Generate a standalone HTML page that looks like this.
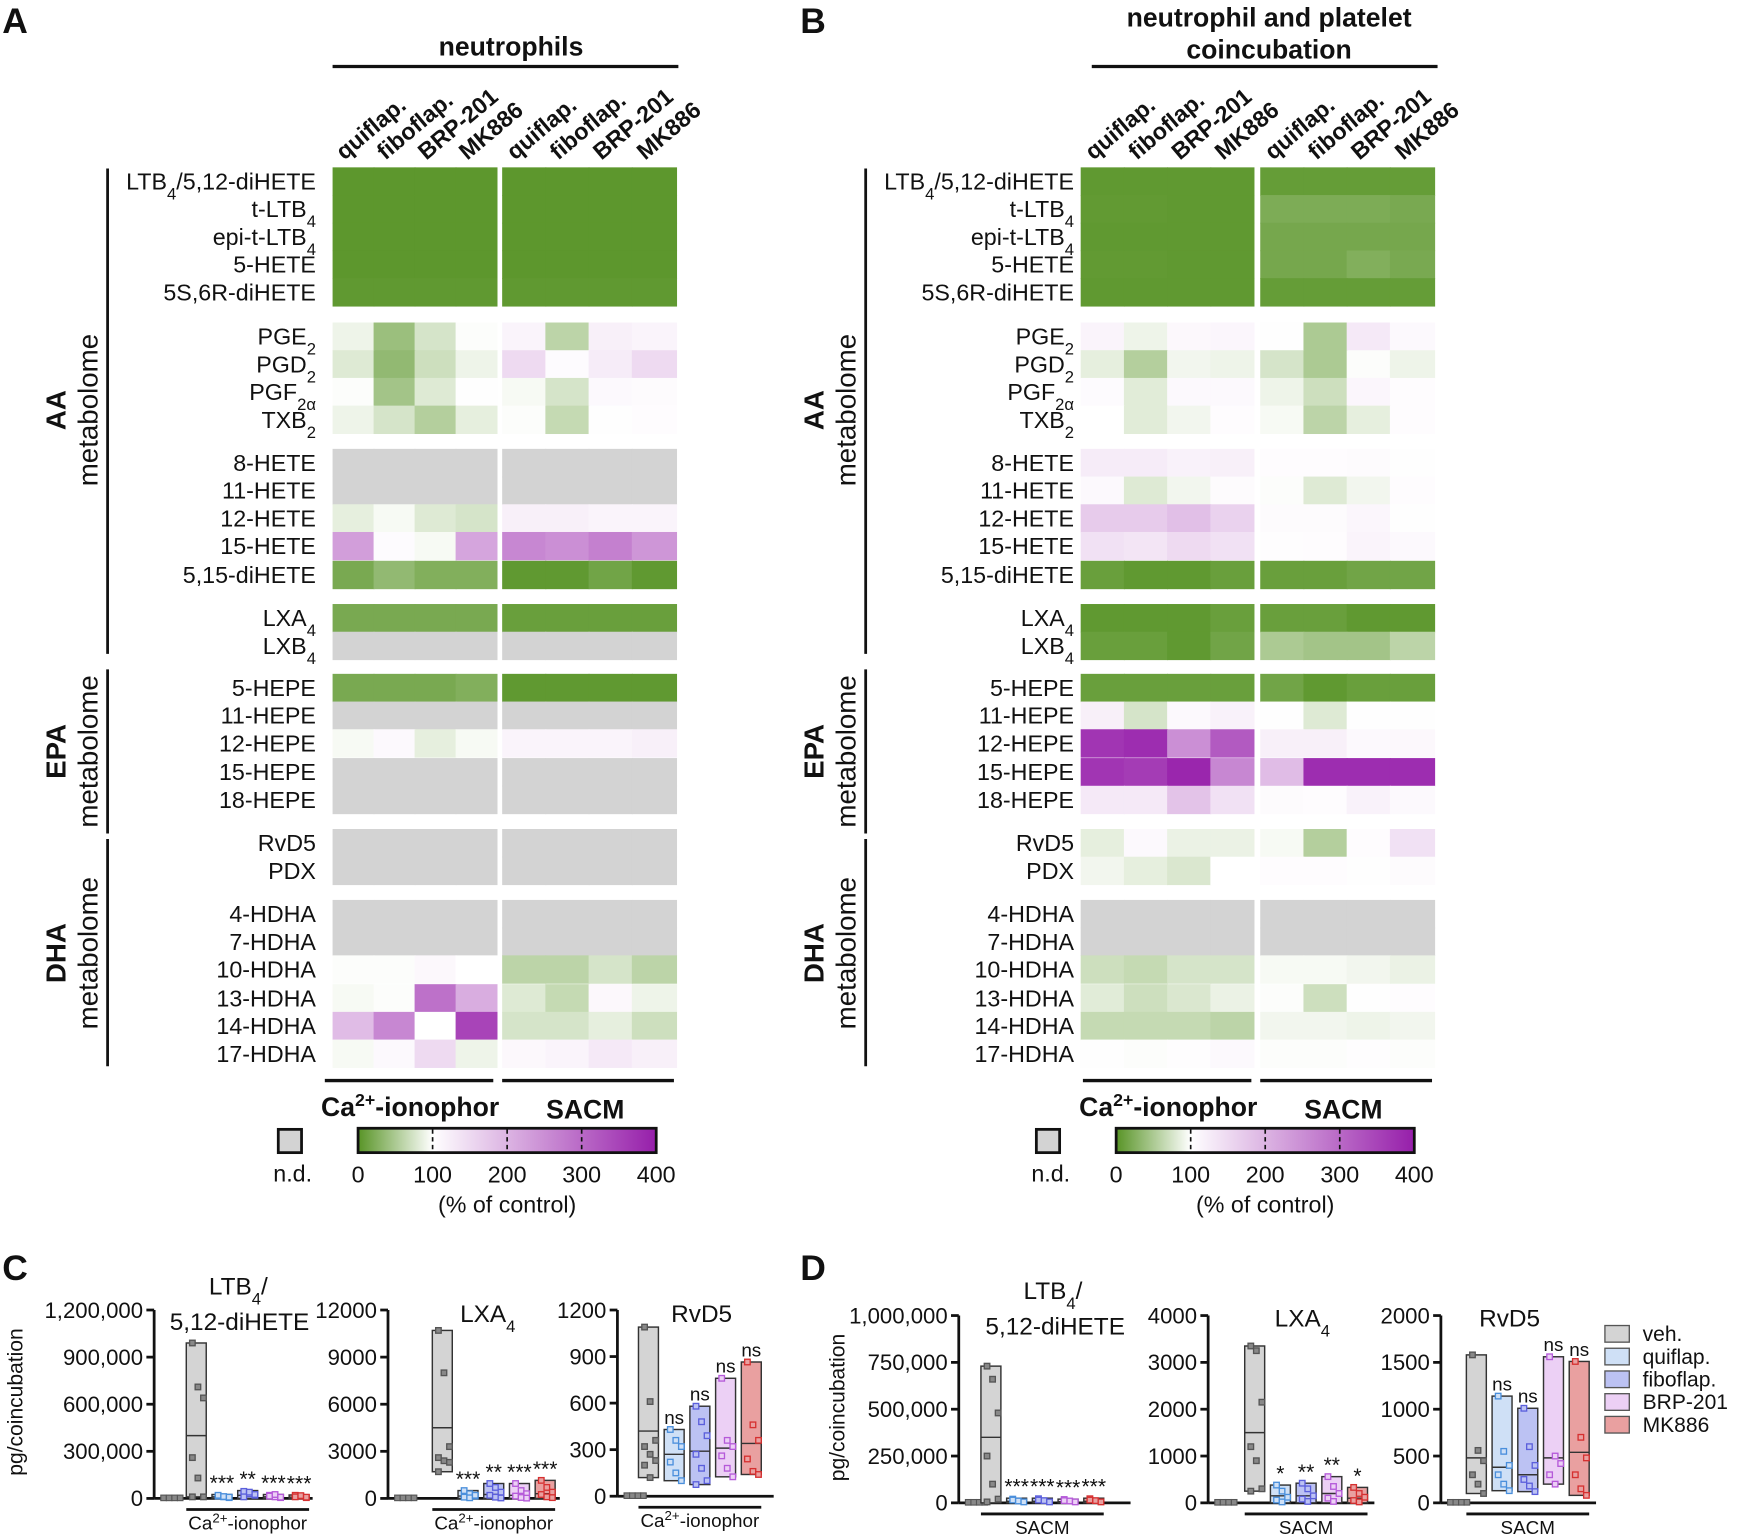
<!DOCTYPE html>
<html><head><meta charset="utf-8">
<style>
html,body{margin:0;padding:0;background:#fff;}
svg{display:block;font-family:"Liberation Sans",Arial,sans-serif;}
</style></head>
<body>
<svg id="fig" width="1738" height="1535" viewBox="0 0 1568 1385" xmlns="http://www.w3.org/2000/svg">
<defs>
<linearGradient id="cb" x1="0" x2="1" y1="0" y2="0">
<stop offset="0" stop-color="rgb(88,148,38)"/>
<stop offset="0.25" stop-color="#ffffff"/>
<stop offset="1" stop-color="rgb(150,30,170)"/>
</linearGradient>
</defs>
<g id="root"></g>
</svg>
<script>
// ---------- heatmap data ----------
const rowLabels = ["LTB<tspan baseline-shift='sub' font-size='15'>4</tspan>/5,12-diHETE","t-LTB<tspan baseline-shift='sub' font-size='15'>4</tspan>","epi-t-LTB<tspan baseline-shift='sub' font-size='15'>4</tspan>","5-HETE","5S,6R-diHETE",
"PGE<tspan baseline-shift='sub' font-size='15'>2</tspan>","PGD<tspan baseline-shift='sub' font-size='15'>2</tspan>","PGF<tspan baseline-shift='sub' font-size='15'>2α</tspan>","TXB<tspan baseline-shift='sub' font-size='15'>2</tspan>",
"8-HETE","11-HETE","12-HETE","15-HETE","5,15-diHETE",
"LXA<tspan baseline-shift='sub' font-size='15'>4</tspan>","LXB<tspan baseline-shift='sub' font-size='15'>4</tspan>",
"5-HEPE","11-HEPE","12-HEPE","15-HEPE","18-HEPE",
"RvD5","PDX",
"4-HDHA","7-HDHA","10-HDHA","13-HDHA","14-HDHA","17-HDHA"];
const rowGroup = [0,0,0,0,0,1,1,1,1,2,2,2,2,2,3,3,4,4,4,4,4,5,5,6,6,6,6,6,6];
const colLabels = ["quiflap.","fiboflap.","BRP-201","MK886","quiflap.","fiboflap.","BRP-201","MK886"];
const N = null;
const heatA = [
[3,3,3,3,3,3,3,3],[3,3,3,3,3,3,3,3],[3,3,3,3,3,3,3,3],[3,3,3,3,3,3,3,3],[5,5,5,5,5,5,5,5],
[90,40,75,98,115,60,120,115],[80,35,70,90,150,105,125,150],[98,45,80,102,95,75,108,106],[90,75,55,85,98,65,102,104],
[N,N,N,N,N,N,N,N],[N,N,N,N,N,N,N,N],[85,95,80,75,120,120,115,115],[230,105,95,220,260,250,270,240],[20,35,25,25,5,5,15,5],
[20,20,20,20,10,10,10,10],[N,N,N,N,N,N,N,N],
[20,20,20,25,5,5,5,5],[N,N,N,N,N,N,N,N],[95,108,85,95,115,115,115,120],[N,N,N,N,N,N,N,N],[N,N,N,N,N,N,N,N],
[N,N,N,N,N,N,N,N],[N,N,N,N,N,N,N,N],
[N,N,N,N,N,N,N,N],[N,N,N,N,N,N,N,N],[98,98,110,100,60,60,75,60],[95,98,290,210,80,65,110,90],[190,260,100,350,75,75,85,70],[95,108,150,90,110,115,130,120]];
const heatB = [
[5,5,5,5,8,8,8,8],[6,6,5,5,22,22,22,20],[5,5,5,5,18,18,18,18],[6,6,5,5,18,18,25,20],[5,5,5,5,8,8,8,8],
[115,90,110,112,102,50,130,108],[85,55,92,90,75,50,98,90],[105,82,108,108,90,70,112,104],[100,82,92,104,95,60,85,104],
[125,125,118,120,104,104,106,102],[108,80,92,106,98,80,92,104],[170,170,185,160,106,106,112,102],[140,135,150,140,103,104,115,108],[10,5,5,10,10,10,15,15],
[5,5,5,10,10,10,5,5],[10,10,5,15,50,45,45,60],
[10,10,10,10,15,5,10,10],[120,75,108,118,102,80,102,102],[370,380,250,320,120,120,108,110],[370,360,390,260,190,380,380,380],[130,130,180,140,106,104,118,108],
[85,108,88,88,95,55,104,140],[92,85,78,100,104,104,102,106],
[N,N,N,N,N,N,N,N],[N,N,N,N,N,N,N,N],[70,65,75,75,95,95,92,88],[82,70,78,88,98,70,102,104],[65,65,65,60,92,92,90,92],[102,98,103,108,98,98,103,98]];
const scaleTicks = [0,100,200,300,400];

// ---------- bar chart data ----------
const groups = ["veh.","quiflap.","fiboflap.","BRP-201","MK886"];
const c1Ticks=[0,300000,600000,900000,1200000], c1TickLbl=["0","300,000","600,000","900,000","1,200,000"];
const c1Min=[10000,0,0,0,0], c1Max=[990000,25000,50000,25000,22000], c1Med=[400000,10000,20000,10000,8000];
const c1Pts=[[990000,710000,640000,260000,130000,10000,10000],[15000,10000,5000,20000,12000,8000],[45000,30000,20000,10000,40000,25000],[20000,10000,5000,15000,25000,8000],[20000,15000,5000,10000,18000,8000]];
const c1Sig=["","***","**","***","***"];
const c2Ticks=[0,3000,6000,9000,12000], c2TickLbl=["0","3000","6000","9000","12000"];
const c2Min=[1700,0,0,0,0], c2Max=[10700,500,950,950,1150], c2Med=[4500,150,250,200,300];
const c2Pts=[[10700,8000,3300,2600,2400,2300,1700],[500,300,150,80,40,200],[950,700,400,200,80,30],[950,500,300,150,60,20],[1150,700,400,250,100,50]];
const c2Sig=["","***","**","***","***"];
const c3Ticks=[0,300,600,900,1200], c3TickLbl=["0","300","600","900","1200"];
const c3Min=[120,100,75,125,140], c3Max=[1090,430,580,760,865], c3Med=[420,270,290,310,340];
const c3Pts=[[1090,610,360,320,270,230,200,120],[430,360,320,220,150,100],[580,480,390,270,180,100,75],[760,360,320,260,180,125],[865,460,360,240,160,140]];
const c3Sig=["","ns","ns","ns","ns"];
const d1Ticks=[0,250000,500000,750000,1000000], d1TickLbl=["0","250,000","500,000","750,000","1,000,000"];
const d1Min=[0,0,0,0,0], d1Max=[730000,25000,25000,20000,25000], d1Med=[350000,8000,8000,6000,8000];
const d1Pts=[[730000,660000,480000,250000,100000,20000,5000],[20000,10000,5000,15000],[22000,12000,5000,15000],[18000,10000,5000,12000],[22000,12000,5000,15000]];
const d1Sig=["","***","***","***","***"];
const d2Ticks=[0,1000,2000,3000,4000], d2TickLbl=["0","1000","2000","3000","4000"];
const d2Min=[250,0,0,0,0], d2Max=[3350,380,420,560,330], d2Med=[1500,150,150,200,100];
const d2Pts=[[3350,3250,2150,1200,900,300,250],[380,250,120,60,20],[420,300,150,80,30],[560,350,200,100,30],[330,200,120,50,20]];
const d2Sig=["","*","**","**","*"];
const d3Ticks=[0,500,1000,1500,2000], d3TickLbl=["0","500","1000","1500","2000"];
const d3Min=[100,130,120,200,80], d3Max=[1580,1140,1010,1560,1510], d3Med=[480,380,300,480,540];
const d3Pts=[[1580,560,450,300,200,100],[1140,550,400,300,200,130],[1010,600,400,250,180,120],[1560,500,420,300,200],[1510,700,480,300,150,80]];
const d3Sig=["","ns","ns","ns","ns"];

const fills=["#d4d4d4","#cfe0f6","#bcc2f3","#ecd0f5","#e9a0a0"];
const strokes=["#555","#4a8fdc","#5b5fdc","#b55ad9","#d63030"];

const NS="http://www.w3.org/2000/svg";
const root=document.getElementById('root');
function mk(tag,attrs,parent){const e=document.createElementNS(NS,tag);for(const k in attrs)e.setAttribute(k,attrs[k]);(parent||root).appendChild(e);return e;}
function txt(x,y,s,size,anchor,weight,parent){const t=mk('text',{x:x,y:y,'font-size':size,'text-anchor':anchor||'start','font-weight':weight||'normal',fill:'#111'},parent);t.innerHTML=s;return t;}
function color(v){
  if(v===null) return "#d3d3d3";
  const g=[88,148,38], w=[255,255,255], p=[150,30,170];
  let a,b,f;
  if(v<=100){a=g;b=w;f=v/100;}else{a=w;b=p;f=Math.min(1,(v-100)/300);}
  return "rgb("+a.map((c,i)=>Math.round(c+(b[i]-c)*f)).join(",")+")";
}
const rowY=[151,176,201,226,251, 291,316,341,366, 405,430,455,480,506, 545,570, 608,633,658,684,709, 748,773, 812,837,862,888,913,938];

function heatmap(name,data,x0,colStarts,colWs,labelX,title1,title2,offs){
  const g=mk('g',{});
  
  
  data.forEach((row,r)=>{
    row.forEach((v,c)=>{
      const cell=mk('rect',{x:colStarts[c],y:rowY[r],width:colWs[c]+0.8,height:25.6,fill:color(v)},g);
      
      
    });
  });
  rowLabels.forEach((l,r)=>{
    const t=txt(labelX,rowY[r]+20,l,21,'end','normal',g);
    
    
  });
  colLabels.forEach((l,c)=>{
    const cx=colStarts[c]+colWs[c]/2-8;
    const t=mk('text',{x:cx,y:145,'font-size':21,'font-weight':'bold',fill:'#111',transform:'rotate(-40 '+cx+' 145)'},g);
    t.textContent=l;
    
    
  });
  if(title2){
    const t1=txt(x0+160,24,title1,24,'middle','bold',g);
    const t2=txt(x0+160,53,title2,24,'middle','bold',g);
  }else{
    const t1=txt(x0+161,50,title1,24,'middle','bold',g);
  }
  mk('line',{x1:x0,x2:x0+312,y1:60,y2:60,stroke:'#111','stroke-width':3},g);
  const bx=offs+97;
  [[152,590,"AA",370],[604,752,"EPA",678],[757,962,"DHA",860]].forEach(b=>{
    mk('line',{x1:bx,x2:bx,y1:b[0],y2:b[1],stroke:'#111','stroke-width':2.5},g);
    const t=mk('text',{x:0,y:0,'font-size':25,'font-weight':'bold','text-anchor':'middle',fill:'#111',transform:'translate('+(offs+59)+','+b[3]+') rotate(-90)'},g);
    t.textContent=b[2];
    const t2=mk('text',{x:0,y:0,'font-size':25,'text-anchor':'middle',fill:'#111',transform:'translate('+(offs+88)+','+b[3]+') rotate(-90)'},g);
    t2.textContent="metabolome";
    
    
  });
  mk('line',{x1:offs+293,x2:offs+445,y1:975,y2:975,stroke:'#111','stroke-width':3},g);
  mk('line',{x1:offs+453,x2:offs+608,y1:975,y2:975,stroke:'#111','stroke-width':3},g);
  const s1=txt(offs+370,1007,"Ca<tspan baseline-shift='super' font-size='16'>2+</tspan>-ionophor",24,'middle','bold',g);
  
  const s2=txt(offs+528,1009,"SACM",24,'middle','bold',g);
  
  const nd=mk('rect',{x:offs+251,y:1019,width:21,height:21,fill:'#d3d3d3',stroke:'#111','stroke-width':2.5},g);
  
  txt(offs+264,1066,"n.d.",21,'middle','normal',g);
  const cbx=offs+323, cbw=269;
  const cb=mk('rect',{x:cbx,y:1018,width:cbw,height:22,fill:'url(#cb)',stroke:'#111','stroke-width':2.5},g);
  
  scaleTicks.forEach(v=>{
    const x=cbx+cbw*v/400;
    if(v>0&&v<400) mk('line',{x1:x,x2:x,y1:1019,y2:1039,stroke:'#111','stroke-width':1.5,'stroke-dasharray':'4,3'},g);
    const t=txt(x,1067,String(v),21,'middle','normal',g);
    
  });
  txt(cbx+cbw/2,1094,"(% of control)",21,'middle','normal',g);
}
heatmap('heatmap-neutrophils',heatA,300,[300,337,374,411,453,492,531,570],[37,37,37,37,39,39,39,40],285,"neutrophils",null,0);
heatmap('heatmap-coincubation',heatB,985,[975,1014,1053,1092,1137,1176,1215,1254],[39,39,39,39,39,39,39,40],969,"neutrophil and platelet","coincubation",684);

[["A",2,30],["B",722,30],["C",2,1155],["D",722,1155]].forEach(l=>{
  const t=txt(l[1],l[2],l[0],32,'start','bold');
  
  
});

function barPanel(name,ax,y0,ytop,ticks,tickLbl,mins,maxs,meds,pts,sigs,title,titleX,titleY,stim,barX0,axEnd){
  const g=mk('g',{});
  
  
  const maxT=ticks[ticks.length-1];
  const Y=v=>y0-(y0-ytop)*v/maxT;
  mk('line',{x1:ax,x2:ax,y1:ytop,y2:y0,stroke:'#111','stroke-width':2.5},g);
  mk('line',{x1:ax,x2:axEnd,y1:y0,y2:y0,stroke:'#111','stroke-width':2.5},g);
  ticks.forEach((v,i)=>{
    mk('line',{x1:ax-7,x2:ax,y1:Y(v),y2:Y(v),stroke:'#111','stroke-width':2.5},g);
    const t=txt(ax-10,Y(v)+7,tickLbl[i],20,'end','normal',g);
    
  });
  for(let k=0;k<4;k++){const d=mk('rect',{x:ax+6+k*5,y:y0-3,width:5,height:5,fill:'#888',stroke:'#555','stroke-width':1},g);}
  const bw=18, step=23.2;
  groups.forEach((gname,i)=>{
    const x=barX0+i*step;
    const b=mk('rect',{x:x,y:Y(maxs[i]),width:bw,height:Y(mins[i])-Y(maxs[i]),fill:fills[i],stroke:'#333','stroke-width':1.3},g);
    
    
    mk('line',{x1:x,x2:x+bw,y1:Y(meds[i]),y2:Y(meds[i]),stroke:'#333','stroke-width':1.3},g);
    pts[i].forEach((v,j)=>{
      const p=mk('rect',{x:x+3+(j%3)*5,y:Y(v)-2.5,width:5,height:5,fill:i==0?'#888':fills[i],stroke:strokes[i],'stroke-width':1.2},g);
      
      
    });
    if(sigs[i]){
      const s=txt(x+bw/2,Y(maxs[i])-(sigs[i]=='ns'?5:-2)-(sigs[i]=='ns'?0:6),sigs[i],sigs[i]=='ns'?17:19,'middle','normal',g);
      
    }
  });
  const bx1=barX0, bx2=barX0+4*step+bw;
  mk('line',{x1:bx1,x2:bx2,y1:y0+10,y2:y0+10,stroke:'#111','stroke-width':2.5},g);
  const st=txt((bx1+bx2)/2,y0+28,stim,17,'middle','normal',g);
  
  const tt=txt(titleX,titleY,title,22,'middle','normal',g);
  
}
const ca="Ca<tspan baseline-shift='super' font-size='12'>2+</tspan>-ionophor";
barPanel('chart-c-ltb4',139,1352,1182,c1Ticks,c1TickLbl,c1Min,c1Max,c1Med,c1Pts,c1Sig,"LTB<tspan baseline-shift='sub' font-size='15'>4</tspan>/",215,1168,ca,168,282);
txt(216,1200,"5,12-diHETE",22,'middle','normal');
barPanel('chart-c-lxa4',350,1352,1182,c2Ticks,c2TickLbl,c2Min,c2Max,c2Med,c2Pts,c2Sig,"LXA<tspan baseline-shift='sub' font-size='15'>4</tspan>",440,1193,ca,390,505);
barPanel('chart-c-rvd5',557,1350,1182,c3Ticks,c3TickLbl,c3Min,c3Max,c3Med,c3Pts,c3Sig,"RvD5",633,1193,ca,576,698);
barPanel('chart-d-ltb4',865,1356,1187,d1Ticks,d1TickLbl,d1Min,d1Max,d1Med,d1Pts,d1Sig,"LTB<tspan baseline-shift='sub' font-size='15'>4</tspan>/",950,1172,"SACM",885,1020);
txt(952,1204,"5,12-diHETE",22,'middle','normal');
barPanel('chart-d-lxa4',1090,1356,1187,d2Ticks,d2TickLbl,d2Min,d2Max,d2Med,d2Pts,d2Sig,"LXA<tspan baseline-shift='sub' font-size='15'>4</tspan>",1175,1197,"SACM",1123,1240);
barPanel('chart-d-rvd5',1300,1356,1187,d3Ticks,d3TickLbl,d3Min,d3Max,d3Med,d3Pts,d3Sig,"RvD5",1362,1197,"SACM",1323,1440);
[[20,1265,'y-axis-title-c'],[762,1270,'y-axis-title-d']].forEach(a=>{
  const t=mk('text',{x:0,y:0,'font-size':19,'text-anchor':'middle',fill:'#111',transform:'translate('+a[0]+','+a[1]+') rotate(-90)'});
  t.textContent="pg/coincubation";
  
});
groups.forEach((gname,i)=>{
  const y=1196+i*20.5;
  const r=mk('rect',{x:1448,y:y,width:22,height:15,fill:fills[i],stroke:'#555','stroke-width':1.2});
  
  const t=txt(1482,y+14,gname,19,'start','normal');
  
});
</script>
</body></html>
